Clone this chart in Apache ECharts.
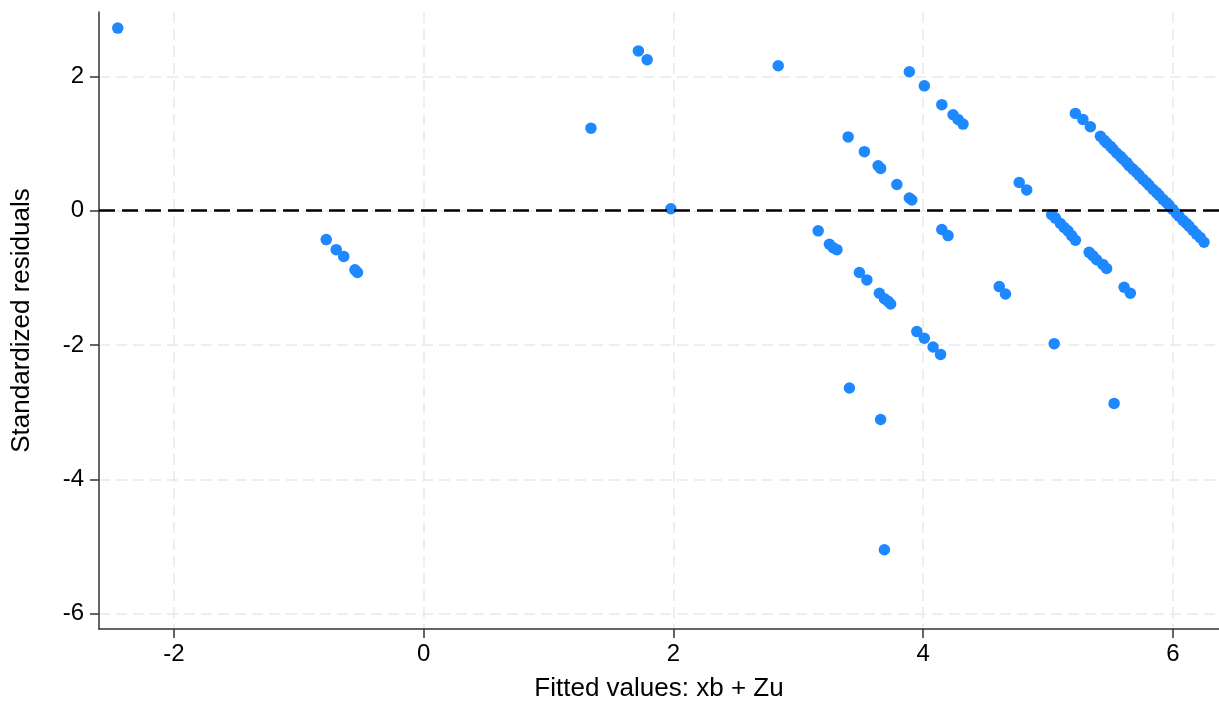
<!DOCTYPE html>
<html>
<head>
<meta charset="utf-8">
<script src="https://cdn.jsdelivr.net/npm/echarts@6/dist/echarts.min.js"></script>
<style>
html,body{margin:0;padding:0;background:#fff;}
#chart{width:1219px;height:707px;}
</style>
</head>
<body>
<div id="chart"></div>
<script>
// Fitted values (x) and standardized residuals (y)
const fittedValues = [
  -2.45, -0.78, -0.70, -0.64, -0.55, -0.53,
  1.34, 1.72, 1.79, 1.98, 2.84,
  3.89, 4.01, 4.15, 4.24, 4.28, 4.32,
  3.40, 3.53, 3.64, 3.66, 3.79, 3.89, 3.91,
  3.16, 3.25, 3.28, 3.31, 3.49, 3.55, 3.65, 3.69, 3.72, 3.74,
  3.95, 4.01, 4.08, 4.14, 4.15, 4.20,
  3.41, 3.66, 3.69,
  4.61, 4.66, 4.77, 4.83, 5.05, 5.53, 5.61, 5.66,
  5.03, 5.06, 5.10, 5.13, 5.16, 5.19, 5.22,
  5.33, 5.36, 5.39, 5.44, 5.47,
  5.22, 5.28, 5.34,
  5.42, 5.45, 5.47, 5.50, 5.52, 5.55, 5.58, 5.60, 5.63, 5.65,
  5.68, 5.71, 5.73, 5.76, 5.79, 5.81, 5.84, 5.87, 5.89, 5.92,
  5.95, 5.97, 6.00, 6.03, 6.05, 6.08, 6.11, 6.13, 6.16, 6.19,
  6.22, 6.25
];
const stdResiduals = [
  2.72, -0.43, -0.58, -0.68, -0.88, -0.92,
  1.23, 2.38, 2.25, 0.03, 2.16,
  2.07, 1.86, 1.58, 1.43, 1.36, 1.29,
  1.10, 0.88, 0.67, 0.63, 0.39, 0.19, 0.16,
  -0.30, -0.50, -0.55, -0.58, -0.92, -1.03, -1.23, -1.31, -1.35, -1.39,
  -1.80, -1.90, -2.03, -2.14, -0.28, -0.37,
  -2.64, -3.11, -5.05,
  -1.13, -1.24, 0.42, 0.31, -1.98, -2.87, -1.14, -1.23,
  -0.06, -0.11, -0.19, -0.25, -0.30, -0.37, -0.44,
  -0.62, -0.67, -0.73, -0.80, -0.86,
  1.45, 1.36, 1.25,
  1.11, 1.05, 1.01, 0.96, 0.92, 0.86, 0.81, 0.77, 0.72, 0.67,
  0.62, 0.57, 0.53, 0.47, 0.42, 0.38, 0.32, 0.27, 0.23, 0.17,
  0.12, 0.08, 0.02, -0.04, -0.08, -0.14, -0.19, -0.23, -0.29, -0.35,
  -0.40, -0.47
];
const xTicks = [-2, 0, 2, 4, 6];
const yTicks = [-6, -4, -2, 0, 2];
const referenceLineY = 0;
const xTitle = 'Fitted values: xb + Zu';
const yTitle = 'Standardized residuals';

const points = fittedValues.map((x, i) => [x, stdResiduals[i]]);
const FONT = '"Liberation Sans", Arial, sans-serif';
const gridLine = { show: true, lineStyle: { color: '#e9e9e9', width: 1.5, type: [11, 6] } };

const chart = echarts.init(document.getElementById('chart'), null, { renderer: 'canvas' });
chart.setOption({
  animation: false,
  backgroundColor: '#ffffff',
  grid: { left: 99, right: 0, top: 12, bottom: 77, containLabel: false },
  xAxis: {
    type: 'value', min: -2.6, max: 6.37,
    name: xTitle, nameLocation: 'middle', nameGap: 47,
    nameTextStyle: { fontFamily: FONT, fontSize: 26, color: '#000' },
    axisLine: { show: true, onZero: false, lineStyle: { color: '#333', width: 1.5 } },
    axisTick: { show: true, customValues: xTicks, length: 9, lineStyle: { color: '#333', width: 1.5 } },
    axisLabel: { customValues: xTicks, fontFamily: FONT, fontSize: 24, color: '#000', margin: 13 },
    splitLine: gridLine
  },
  yAxis: {
    type: 'value', min: -6.23, max: 2.96,
    name: yTitle, nameLocation: 'middle', nameGap: 64, nameRotate: 90,
    nameTextStyle: { fontFamily: FONT, fontSize: 26, color: '#000' },
    axisLine: { show: true, onZero: false, lineStyle: { color: '#333', width: 1.5 } },
    axisTick: { show: true, customValues: yTicks, length: 9, lineStyle: { color: '#333', width: 1.5 } },
    axisLabel: { customValues: yTicks, fontFamily: FONT, fontSize: 24, color: '#000', margin: 15 },
    splitLine: gridLine
  },
  series: [
    {
      type: 'scatter',
      data: [],
      z: 1,
      markLine: {
        silent: true, symbol: 'none', label: { show: false },
        lineStyle: { color: '#000', width: 2.5, type: [16, 7] },
        data: [{ yAxis: referenceLineY }]
      }
    },
    {
      type: 'scatter',
      data: points,
      z: 3,
      symbol: 'circle',
      symbolSize: 11.5,
      itemStyle: { color: '#1e89ff', opacity: 1 }
    }
  ]
});
</script>
</body>
</html>
